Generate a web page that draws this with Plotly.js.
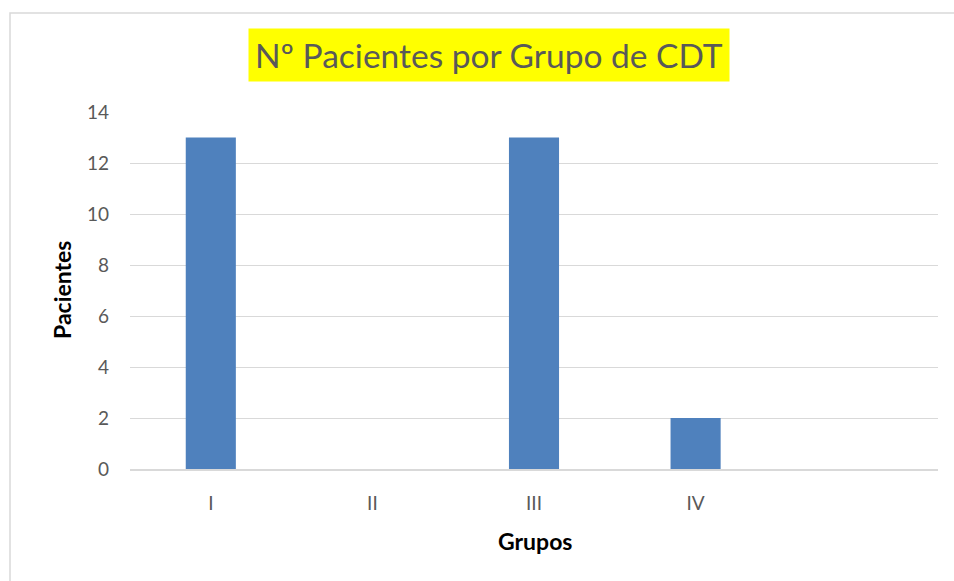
<!DOCTYPE html>
<html>
<head>
<meta charset="utf-8">
<script src="https://cdn.plot.ly/plotly-3.0.1.min.js"></script>
<style>html,body{margin:0;padding:0;background:#fff;}#chart{width:954px;height:581px;}</style>
</head>
<body>
<div id="chart"></div>
<script>
const categories = ['I', 'II', 'III', 'IV'];
const pacientes = [13, 0, 13, 2];
const yTicks = [0, 2, 4, 6, 8, 10, 12, 14];
const chartTitle = 'Nº Pacientes por Grupo de CDT';
const xTitle = 'Grupos';
const yTitle = 'Pacientes';

const font = 'Lato, "Open Sans", sans-serif';
const L = 130, R = 16, T = 112, B = 112;
const W = 954, H = 581;
const pw = W - L - R, ph = H - T - B;

const trace = {
  type: 'bar',
  x: categories,
  y: pacientes,
  marker: {color: '#4F81BD'},
  hoverinfo: 'x+y'
};

const layout = {
  width: W, height: H,
  margin: {l: L, r: R, t: T, b: B},
  paper_bgcolor: '#ffffff',
  plot_bgcolor: '#ffffff',
  showlegend: false,
  bargap: 0.69,
  font: {family: font, color: '#595959', size: 19},
  xaxis: {
    type: 'category',
    categoryarray: categories,
    range: [-0.5, 4.5],
    showgrid: false,
    showline: true,
    linecolor: '#d9d9d9',
    linewidth: 1.5,
    ticks: '',
    ticklabelstandoff: 17,
    tickfont: {family: font, size: 19, color: '#595959'},
    zeroline: false,
    fixedrange: true
  },
  yaxis: {
    range: [0, 14],
    tickvals: yTicks,
    showgrid: true,
    gridcolor: '#d9d9d9',
    gridwidth: 1,
    showline: false,
    zeroline: false,
    ticks: '',
    ticklabelstandoff: 20,
    tickfont: {family: font, size: 19, color: '#595959'},
    fixedrange: true
  },
  annotations: [
    {
      text: chartTitle,
      xref: 'paper', yref: 'paper',
      x: (488.5 - L) / pw, y: (H - B - 55.5) / ph,
      xanchor: 'center', yanchor: 'middle',
      showarrow: false,
      bgcolor: '#ffff00',
      borderpad: 6,
      font: {family: font, size: 33.5, color: '#595959'}
    },
    {
      text: '<b>' + xTitle + '</b>',
      xref: 'paper', yref: 'paper',
      x: (535 - L) / pw, y: (H - B - 541) / ph,
      xanchor: 'center', yanchor: 'middle',
      showarrow: false,
      font: {family: font, size: 23, color: '#000000'}
    },
    {
      text: '<b>' + yTitle + '</b>',
      xref: 'paper', yref: 'paper',
      x: (62 - L) / pw, y: (H - B - 290) / ph,
      xanchor: 'center', yanchor: 'middle',
      textangle: -90,
      showarrow: false,
      font: {family: font, size: 23, color: '#000000'}
    }
  ],
  shapes: [
    {
      type: 'rect',
      xref: 'paper', yref: 'paper',
      x0: (10 - L) / pw, x1: (970 - L) / pw,
      y0: (H - B - 600) / ph, y1: (H - B - 13) / ph,
      line: {color: '#d9d9d9', width: 1.5},
      fillcolor: 'rgba(0,0,0,0)',
      layer: 'below'
    }
  ]
};

Plotly.newPlot('chart', [trace], layout, {displayModeBar: false, staticPlot: true});
</script>
</body>
</html>
